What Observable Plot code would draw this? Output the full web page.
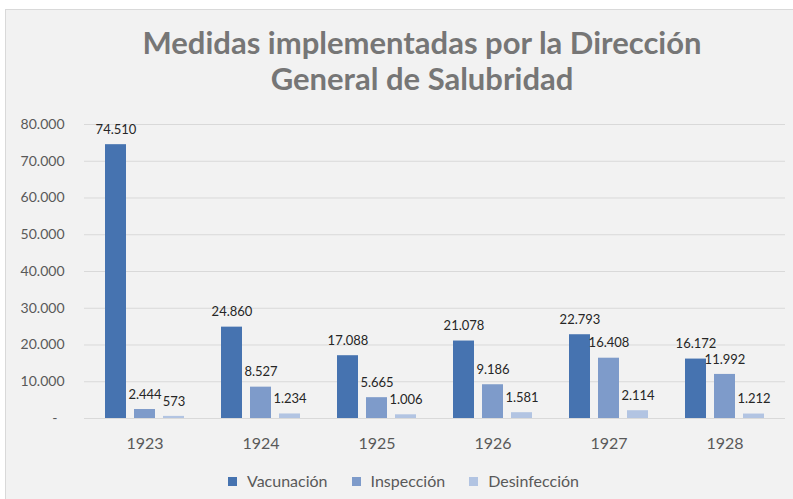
<!DOCTYPE html>
<html><head><meta charset="utf-8">
<script src="https://cdn.jsdelivr.net/npm/d3@7"></script>
<script src="https://cdn.jsdelivr.net/npm/@observablehq/plot@0.6"></script>
<style>
body{margin:0;background:#fff;font-family:Lato,sans-serif}
#wrap{position:relative;width:793px;height:499px;overflow:hidden;background:#fff}
#box{position:absolute;left:5px;top:9px;width:840px;height:520px;background:#f2f2f2;border:1px solid #d9d9d9}
#title{position:absolute;left:5px;width:834px;top:24px;text-align:center;font-weight:bold;font-size:31px;color:#767676;line-height:36px}
.layer{position:absolute;left:0;top:100px}
#legend{position:absolute;left:228px;top:471px;display:flex;align-items:center;font-size:16px;color:#595959;line-height:20px}
#legend .item{display:flex;align-items:center;margin-right:24px}
#legend .sw{width:9px;height:9px;margin-right:10px}
</style></head>
<body><div id="wrap"><div id="box"></div>
<div id="title">Medidas implementadas por la Dirección<br>General de Salubridad</div>
<div id="gridLayer" class="layer"></div><div id="barLayer" class="layer"></div>
<div id="legend"></div></div>
<script>
const years = ["1923", "1924", "1925", "1926", "1927", "1928"];
const series = ["Vacunación", "Inspección", "Desinfección"];
const vacunacion = [74510, 24860, 17088, 21078, 22793, 16172];
const inspeccion = [2444, 8527, 5665, 9186, 16408, 11992];
const desinfeccion = [573, 1234, 1006, 1581, 2114, 1212];
const yTicks = [0, 10000, 20000, 30000, 40000, 50000, 60000, 70000, 80000];
const colors = ["#4673b0", "#7e9bca", "#b2c4e2"];

const loc = d3.formatLocale({decimal: ",", thousands: ".", grouping: [3], currency: ["", ""]});
const fmt = loc.format(",d");
const tickFmt = v => v === 0 ? "-\u00a0\u00a0" : fmt(v);

const valuesBySeries = [vacunacion, inspeccion, desinfeccion];
const data = [];
years.forEach((y, i) => series.forEach((s, j) => data.push({year: y, series: s, value: valuesBySeries[j][i]})));

const W = 793, H = 360, mL = 84, mR = 8, mT = 24, mB = 42;

const gridPlot = Plot.plot({
  width: W, height: H, marginLeft: mL, marginRight: mR, marginTop: mT, marginBottom: mB,
  style: {background: "transparent", fontFamily: "Lato, sans-serif", fontSize: "14px", color: "#595959"},
  x: {axis: null},
  y: {domain: [0, 80000], ticks: yTicks, tickFormat: tickFmt, tickSize: 0, tickPadding: 20, label: null},
  marks: [Plot.ruleY(yTicks, {stroke: "#d9d9d9", strokeWidth: 1})]
});
document.getElementById("gridLayer").appendChild(gridPlot);

const barPlot = Plot.plot({
  width: W, height: H, marginLeft: mL, marginRight: mR, marginTop: mT, marginBottom: mB,
  style: {background: "transparent", fontFamily: "Lato, sans-serif", fontSize: "16px", color: "#595959", overflow: "visible"},
  facet: {data: data, x: "year"},
  fx: {domain: years, paddingInner: 0.3, paddingOuter: 0.15, label: null, tickSize: 0, tickPadding: 19},
  x: {domain: series, axis: null, paddingInner: 0.28, paddingOuter: 0},
  y: {domain: [0, 80000], axis: null},
  color: {domain: series, range: colors},
  marks: [
    Plot.barY(data, {x: "series", y: "value", fill: "series"}),
    Plot.text(data, {x: "series", y: "value", text: d => fmt(d.value), dy: -15, fontSize: 13, fill: "#262626"})
  ]
});
document.getElementById("barLayer").appendChild(barPlot);

const leg = document.getElementById("legend");
series.forEach((s, i) => {
  const it = document.createElement("div"); it.className = "item";
  const sw = document.createElement("div"); sw.className = "sw"; sw.style.background = colors[i];
  const t = document.createElement("span"); t.textContent = s;
  it.appendChild(sw); it.appendChild(t); leg.appendChild(it);
});
</script></body></html>
